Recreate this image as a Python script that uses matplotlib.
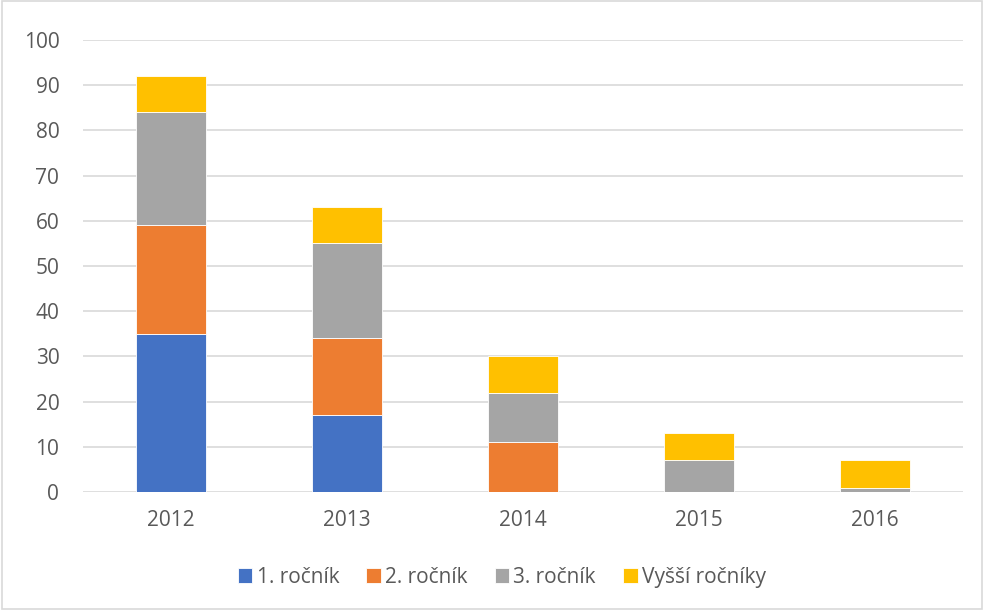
import matplotlib.pyplot as plt
from matplotlib.patches import Rectangle
import numpy as np

years = ["2012", "2013", "2014", "2015", "2016"]
rocnik_1 = [35, 17, 0, 0, 0]
rocnik_2 = [24, 17, 11, 0, 0]
rocnik_3 = [25, 21, 11, 7, 1]
vyssi = [8, 8, 8, 6, 6]

series = [
    ("1. ročník", rocnik_1, "#4472c4"),
    ("2. ročník", rocnik_2, "#ed7d31"),
    ("3. ročník", rocnik_3, "#a5a5a5"),
    ("Vyšší ročníky", vyssi, "#ffc000"),
]

plt.rcParams["font.family"] = ["Open Sans", "DejaVu Sans"]
text_color = "#595959"
fsize = 15

fig = plt.figure(figsize=(9.84, 6.1), dpi=100)
ax = fig.add_axes([0.0843, 0.1934, 0.8944, 0.741])

x = np.arange(len(years))
bottom = np.zeros(len(years))
for name, vals, color in series:
    ax.bar(x, vals, width=0.4, bottom=bottom, color=color, label=name,
           edgecolor="white", linewidth=0.6, zorder=3)
    bottom += np.array(vals)

ax.set_xlim(-0.5, len(years) - 0.5)
ax.set_ylim(0, 100)
ax.set_yticks(range(0, 101, 10))
ax.set_xticks(x)
ax.set_xticklabels(years)
ax.grid(axis="y", color="#d9d9d9", linewidth=1.2, zorder=0)
ax.set_axisbelow(True)
for s in ax.spines.values():
    s.set_visible(False)
ax.tick_params(axis="both", length=0, labelsize=fsize, colors=text_color)
ax.tick_params(axis="x", pad=13)
ax.tick_params(axis="y", pad=17)

handles, labels = ax.get_legend_handles_labels()
leg = fig.legend(handles, labels, loc="center", bbox_to_anchor=(0.51, 0.054),
                 ncol=4, frameon=False, fontsize=fsize, handlelength=0.7,
                 handleheight=0.7, handletextpad=0.2, columnspacing=1.3)
for t in leg.get_texts():
    t.set_color(text_color)

fig.patches.append(Rectangle((0.002, 0.002), 0.996, 0.996, transform=fig.transFigure,
                             fill=False, edgecolor="#d9d9d9", linewidth=1.2))

fig.savefig("out.png", dpi=100)
